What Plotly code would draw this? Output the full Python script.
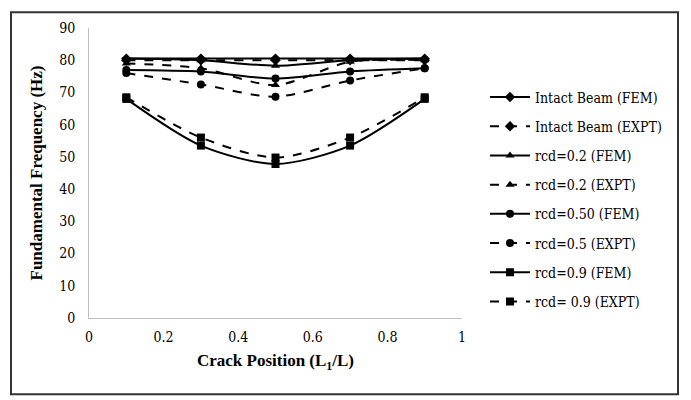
import plotly.graph_objects as go

# --- Data ---
crack_pos = [0.1, 0.3, 0.5, 0.7, 0.9]

intact_fem = [80.5, 80.5, 80.5, 80.5, 80.5]
intact_expt = [80.0, 80.0, 80.0, 80.0, 80.0]
rcd02_fem = [80.5, 80.0, 78.3, 80.0, 80.5]
rcd02_expt = [79.0, 77.5, 72.3, 79.5, 80.0]
rcd05_fem = [77.0, 76.5, 74.3, 76.5, 77.5]
rcd05_expt = [76.0, 72.5, 68.7, 73.7, 77.5]
rcd09_fem = [68.0, 53.5, 47.8, 53.5, 68.0]
rcd09_expt = [68.5, 56.0, 49.8, 56.0, 68.5]

series = [
    ("Intact Beam (FEM)", intact_fem, "solid", "diamond"),
    ("Intact Beam (EXPT)", intact_expt, "dash", "diamond"),
    ("rcd=0.2 (FEM)", rcd02_fem, "solid", "triangle-up"),
    ("rcd=0.2 (EXPT)", rcd02_expt, "dash", "triangle-up"),
    ("rcd=0.50 (FEM)", rcd05_fem, "solid", "circle"),
    ("rcd=0.5 (EXPT)", rcd05_expt, "dash", "circle"),
    ("rcd=0.9 (FEM)", rcd09_fem, "solid", "square"),
    ("rcd= 0.9 (EXPT)", rcd09_expt, "dash", "square"),
]

fig = go.Figure()
for i, (name, vals, dash, sym) in enumerate(series):
    fig.add_trace(go.Scatter(
        x=crack_pos, y=vals, name=name, legendgroup=f"g{i}",
        mode="lines+markers",
        line=dict(color="black", width=2, dash=dash, shape="spline", smoothing=0.8),
        marker=dict(symbol=sym, size=8, color="black"),
    ))

# page has an 8px body margin, so figure pixel = page pixel - 8
OFF = 8
W, H = 691 - OFF, 400 - OFF
L, R, T, B = 89 - OFF, 229, 25 - OFF, 82
pw, ph = W - L - R, H - T - B

def px_x(p):
    return (p - OFF - L) / pw

def px_y(p):
    return (H - B - (p - OFF)) / ph

# outer frame of the chart
fig.add_shape(type="rect", xref="paper", yref="paper",
              x0=px_x(11), x1=px_x(678), y0=px_y(395), y1=px_y(9),
              line=dict(color="#333", width=2))

serif = "Liberation Serif"
body_font = "DejaVu Serif Condensed"
fig.update_layout(
    width=W, height=H,
    margin=dict(l=L, r=R, t=T, b=B),
    paper_bgcolor="white", plot_bgcolor="white",
    font=dict(family=body_font, size=14, color="black"),
    showlegend=True,
    legend=dict(x=px_x(485), y=px_y(79), xanchor="left", yanchor="top",
                font=dict(family=body_font, size=14, color="black"),
                tracegroupgap=8, itemwidth=40,
                bgcolor="rgba(0,0,0,0)"),
    xaxis=dict(range=[0, 1], dtick=0.2, showgrid=False, zeroline=False,
               showline=True, linecolor="#bfbfbf", linewidth=1, ticks="",
               tickfont=dict(family=body_font, size=14, color="black"),
               ticklabelstandoff=6,
               title=dict(text="<b>Crack Position (L<sub>1</sub>/L)</b>",
                          font=dict(family=serif, size=17, color="black"), standoff=10)),
    yaxis=dict(range=[0, 90], dtick=10, showgrid=False, zeroline=False,
               showline=True, linecolor="#bfbfbf", linewidth=1, ticks="",
               tickfont=dict(family=body_font, size=14, color="black"),
               ticklabelstandoff=10,
               title=dict(text="<b>Fundamental Frequency (Hz)</b>",
                          font=dict(family=serif, size=17, color="black"), standoff=12)),
)

fig.write_html("out.html")
